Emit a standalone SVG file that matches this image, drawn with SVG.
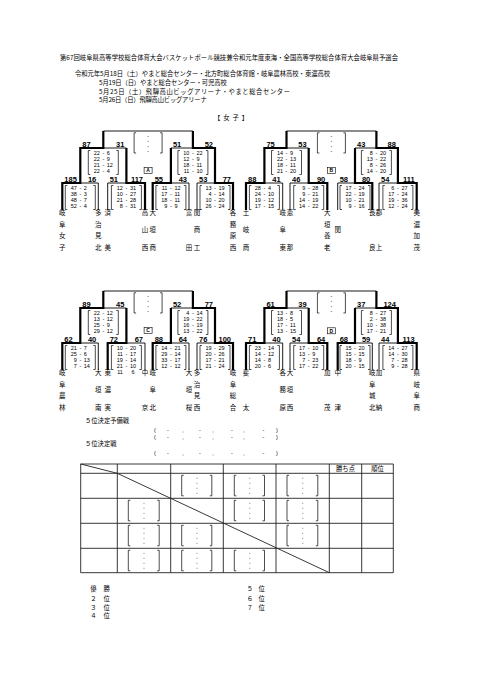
<svg xmlns="http://www.w3.org/2000/svg" width="481" height="680" viewBox="0 0 481 680">
<style>
text{fill:#000}
.h{font-family:'Noto Sans CJK JP','Noto Sans CJK SC',sans-serif;font-size:6.3px}
.j{font-family:'Noto Sans CJK JP','Noto Sans CJK SC',sans-serif;font-size:6.5px;text-anchor:middle}
.n{font-family:'Liberation Sans',Arial,sans-serif;font-weight:bold;font-size:7.5px}
.s{font-family:'Liberation Sans',Arial,sans-serif;font-size:5.5px}
.e{text-anchor:end}
.m{text-anchor:middle}
.lab{font-family:'Liberation Sans',Arial,sans-serif;font-weight:bold;font-size:5px;text-anchor:middle}
.tn{fill:none;stroke:#000;stroke-width:0.9}
.tk{fill:none;stroke:#000;stroke-width:2.2}
.br{fill:none;stroke:#000;stroke-width:0.7}
.bx{fill:#fff;stroke:#000;stroke-width:0.6}
.grid{fill:none;stroke:#222;stroke-width:0.9}
.dot{stroke:#666;stroke-width:0.6}
</style>

<g id="header">
<text class="h" x="60" y="59.7" textLength="338">第67回岐阜県高等学校総合体育大会バスケットボール競技兼令和元年度東海・全国高等学校総合体育大会岐阜県予選会</text>
<text class="h" x="75" y="76.4" textLength="255">令和元年5月18日（土）やまと総合センター・北方町総合体育館・岐阜農林高校・東濃高校</text>
<text class="h" x="99" y="85" textLength="127.7">5月19日（日）やまと総合センター・可児高校</text>
<text class="h" x="99" y="93.7" textLength="191">5月25日（土）飛騨高山ビッグアリーナ・やまと総合センター</text>
<text class="h" x="99" y="102.4" textLength="107.7">5月26日（日）飛騨高山ビッグアリーナ</text>
<text class="h" x="214" y="119.5" textLength="34">【　女　子　】</text>
</g>

<g id="connectors">
<path class="tn" d="M98.3,210V183H80.3M107.7,210V183H126.4M189,210V183H170.9M197,210V183H215M126.4,148H103.3M170.9,148H192.9M103.3,131H192.9"/>
<path class="tk" d="M62.3,210V183H80.3V148H103.3V131M145,210V183H126.4V148M152.7,210V183H170.9V148M233,210V183H215V148H192.9V131"/>
<path class="tn" d="M282.7,210V183H264.4M290,210V183H308.7M337.7,210V183H355M379,210V183H397.9M308.7,148H286.5M355,148H376.4M286.5,131H376.4"/>
<path class="tk" d="M246,210V183H264.4V148H286.5V131M327.3,210V183H308.7V148M372.3,210V183H355V148M416.7,210V183H397.9V148H376.4V131"/>
<path class="tn" d="M98.3,370V343H80.3M145,370V343H126.4M189,370V343H170.9M197,370V343H215M126.4,308H103.3M170.9,308H192.9M103.3,291H192.9"/>
<path class="tk" d="M62.3,370V343H80.3V308H103.3V291M107.7,370V343H126.4V308M152.7,370V343H170.9V308M233,370V343H215V308H192.9V291"/>
<path class="tn" d="M282.7,370V343H264.4M290,370V343H308.7M372.3,370V343H355M379,370V343H397.9M308.7,308H286.5M355,308H376.4M286.5,291H376.4"/>
<path class="tk" d="M246,370V343H264.4V308H286.5V291M327.3,370V343H308.7V308M337.7,370V343H355V308M416.7,370V343H397.9V308H376.4V291"/>
</g>

<g id="scores-numbers">
<text class="n" x="64.3" y="181.7">185</text><text class="n e" x="96.3" y="181.7">16</text>
<text class="n" x="109.7" y="181.7">51</text><text class="n e" x="143" y="181.7">117</text>
<text class="n" x="154.7" y="181.7">55</text><text class="n e" x="187" y="181.7">43</text>
<text class="n" x="199" y="181.7">53</text><text class="n e" x="231" y="181.7">77</text>
<text class="n" x="82.3" y="146.7">87</text><text class="n e" x="124.4" y="146.7">31</text>
<text class="n" x="172.9" y="146.7">51</text><text class="n e" x="213" y="146.7">52</text>
<text class="n" x="248" y="181.7">88</text><text class="n e" x="280.7" y="181.7">41</text>
<text class="n" x="292" y="181.7">46</text><text class="n e" x="325.3" y="181.7">90</text>
<text class="n" x="339.7" y="181.7">58</text><text class="n e" x="370.3" y="181.7">80</text>
<text class="n" x="381" y="181.7">54</text><text class="n e" x="414.7" y="181.7">111</text>
<text class="n" x="266.4" y="146.7">75</text><text class="n e" x="306.7" y="146.7">53</text>
<text class="n" x="357" y="146.7">43</text><text class="n e" x="395.9" y="146.7">88</text>
<text class="n" x="64.3" y="341.7">62</text><text class="n e" x="96.3" y="341.7">40</text>
<text class="n" x="109.7" y="341.7">72</text><text class="n e" x="143" y="341.7">67</text>
<text class="n" x="154.7" y="341.7">88</text><text class="n e" x="187" y="341.7">64</text>
<text class="n" x="199" y="341.7">76</text><text class="n e" x="231" y="341.7">100</text>
<text class="n" x="82.3" y="306.7">89</text><text class="n e" x="124.4" y="306.7">45</text>
<text class="n" x="172.9" y="306.7">52</text><text class="n e" x="213" y="306.7">77</text>
<text class="n" x="248" y="341.7">71</text><text class="n e" x="280.7" y="341.7">40</text>
<text class="n" x="292" y="341.7">54</text><text class="n e" x="325.3" y="341.7">64</text>
<text class="n" x="339.7" y="341.7">68</text><text class="n e" x="370.3" y="341.7">59</text>
<text class="n" x="381" y="341.7">44</text><text class="n e" x="414.7" y="341.7">113</text>
<text class="n" x="266.4" y="306.7">61</text><text class="n e" x="306.7" y="306.7">39</text>
<text class="n" x="357" y="306.7">37</text><text class="n e" x="395.9" y="306.7">124</text>
</g>

<g id="block-labels">
<rect class="bx" x="144.1" y="167.3" width="8" height="6"/><text class="lab" x="148.1" y="172.1">A</text>
<rect class="bx" x="327.4" y="167.3" width="8" height="6"/><text class="lab" x="331.4" y="172.1">B</text>
<rect class="bx" x="144.1" y="327.3" width="8" height="6"/><text class="lab" x="148.1" y="332.1">C</text>
<rect class="bx" x="327.4" y="327.8" width="8" height="6"/><text class="lab" x="331.4" y="332.6">D</text>
</g>

<g id="final-boxes">
<path class="br" d="M136.1,132.8H134.1V153H136.1M160.1,132.8H162.1V153H160.1M319.4,132.8H317.4V153H319.4M343.4,132.8H345.4V153H343.4M136.1,292.8H134.1V313H136.1M160.1,292.8H162.1V313H160.1M319.4,292.8H317.4V313H319.4M343.4,292.8H345.4V313H343.4"/>
<text class="s m" x="148.1" y="137.6">-<tspan x="148.1" dy="5">-</tspan><tspan x="148.1" dy="5">-</tspan><tspan x="148.1" dy="5">-</tspan></text>
<text class="s m" x="331.4" y="137.6">-<tspan x="331.4" dy="5">-</tspan><tspan x="331.4" dy="5">-</tspan><tspan x="331.4" dy="5">-</tspan></text>
<text class="s m" x="148.1" y="297.6">-<tspan x="148.1" dy="5">-</tspan><tspan x="148.1" dy="5">-</tspan><tspan x="148.1" dy="5">-</tspan></text>
<text class="s m" x="331.4" y="297.6">-<tspan x="331.4" dy="5">-</tspan><tspan x="331.4" dy="5">-</tspan><tspan x="331.4" dy="5">-</tspan></text>
</g>

<g id="score-boxes">
<path class="br" d="M67.3,185.5H65.3V209.5H67.3M93.3,185.5H95.3V209.5H93.3M113.4,185.5H111.4V209.5H113.4M139.4,185.5H141.4V209.5H139.4M157.9,185.5H155.9V209.5H157.9M183.9,185.5H185.9V209.5H183.9M202,185.5H200V209.5H202M228,185.5H230V209.5H228M90.3,150.5H88.3V174.5H90.3M116.3,150.5H118.3V174.5H116.3M179.9,150.5H177.9V174.5H179.9M205.9,150.5H207.9V174.5H205.9"/>
<path class="br" d="M251.4,185.5H249.4V209.5H251.4M277.4,185.5H279.4V209.5H277.4M295.7,185.5H293.7V209.5H295.7M321.7,185.5H323.7V209.5H321.7M342,185.5H340V209.5H342M368,185.5H370V209.5H368M384.9,185.5H382.9V209.5H384.9M410.9,185.5H412.9V209.5H410.9M273.5,150.5H271.5V174.5H273.5M299.5,150.5H301.5V174.5H299.5M363.4,150.5H361.4V174.5H363.4M389.4,150.5H391.4V174.5H389.4"/>
<path class="br" d="M67.3,345.5H65.3V369.5H67.3M93.3,345.5H95.3V369.5H93.3M113.4,345.5H111.4V369.5H113.4M139.4,345.5H141.4V369.5H139.4M157.9,345.5H155.9V369.5H157.9M183.9,345.5H185.9V369.5H183.9M202,345.5H200V369.5H202M228,345.5H230V369.5H228M90.3,310.5H88.3V334.5H90.3M116.3,310.5H118.3V334.5H116.3M179.9,310.5H177.9V334.5H179.9M205.9,310.5H207.9V334.5H205.9"/>
<path class="br" d="M251.4,345.5H249.4V369.5H251.4M277.4,345.5H279.4V369.5H277.4M295.7,345.5H293.7V369.5H295.7M321.7,345.5H323.7V369.5H321.7M342,345.5H340V369.5H342M368,345.5H370V369.5H368M384.9,345.5H382.9V369.5H384.9M410.9,345.5H412.9V369.5H410.9M273.5,310.5H271.5V334.5H273.5M299.5,310.5H301.5V334.5H299.5M363.4,310.5H361.4V334.5H363.4M389.4,310.5H391.4V334.5H389.4"/>

<text class="s e" x="76.8" y="190">47<tspan x="76.8" dy="6">38</tspan><tspan x="76.8" dy="6">48</tspan><tspan x="76.8" dy="6">52</tspan></text>
<text class="s" x="83.8" y="190">2<tspan x="83.8" dy="6">3</tspan><tspan x="83.8" dy="6">7</tspan><tspan x="83.8" dy="6">4</tspan></text>
<text class="s e" x="122.9" y="190">12<tspan x="122.9" dy="6">10</tspan><tspan x="122.9" dy="6">21</tspan><tspan x="122.9" dy="6">8</tspan></text>
<text class="s" x="129.9" y="190">31<tspan x="129.9" dy="6">27</tspan><tspan x="129.9" dy="6">28</tspan><tspan x="129.9" dy="6">31</tspan></text>
<text class="s e" x="167.4" y="190">11<tspan x="167.4" dy="6">17</tspan><tspan x="167.4" dy="6">18</tspan><tspan x="167.4" dy="6">9</tspan></text>
<text class="s" x="174.4" y="190">12<tspan x="174.4" dy="6">11</tspan><tspan x="174.4" dy="6">11</tspan><tspan x="174.4" dy="6">9</tspan></text>
<text class="s e" x="211.5" y="190">13<tspan x="211.5" dy="6">4</tspan><tspan x="211.5" dy="6">10</tspan><tspan x="211.5" dy="6">26</tspan></text>
<text class="s" x="218.5" y="190">19<tspan x="218.5" dy="6">14</tspan><tspan x="218.5" dy="6">20</tspan><tspan x="218.5" dy="6">24</tspan></text>
<text class="s e" x="99.8" y="155">22<tspan x="99.8" dy="6">22</tspan><tspan x="99.8" dy="6">21</tspan><tspan x="99.8" dy="6">22</tspan></text>
<text class="s" x="106.8" y="155">6<tspan x="106.8" dy="6">9</tspan><tspan x="106.8" dy="6">12</tspan><tspan x="106.8" dy="6">4</tspan></text>
<text class="s e" x="189.4" y="155">10<tspan x="189.4" dy="6">12</tspan><tspan x="189.4" dy="6">18</tspan><tspan x="189.4" dy="6">11</tspan></text>
<text class="s" x="196.4" y="155">22<tspan x="196.4" dy="6">9</tspan><tspan x="196.4" dy="6">11</tspan><tspan x="196.4" dy="6">10</tspan></text>

<text class="s e" x="260.9" y="190">28<tspan x="260.9" dy="6">24</tspan><tspan x="260.9" dy="6">19</tspan><tspan x="260.9" dy="6">17</tspan></text>
<text class="s" x="267.9" y="190">4<tspan x="267.9" dy="6">10</tspan><tspan x="267.9" dy="6">12</tspan><tspan x="267.9" dy="6">15</tspan></text>
<text class="s e" x="305.2" y="190">9<tspan x="305.2" dy="6">9</tspan><tspan x="305.2" dy="6">14</tspan><tspan x="305.2" dy="6">14</tspan></text>
<text class="s" x="312.2" y="190">28<tspan x="312.2" dy="6">21</tspan><tspan x="312.2" dy="6">19</tspan><tspan x="312.2" dy="6">22</tspan></text>
<text class="s e" x="351.5" y="190">17<tspan x="351.5" dy="6">22</tspan><tspan x="351.5" dy="6">10</tspan><tspan x="351.5" dy="6">9</tspan></text>
<text class="s" x="358.5" y="190">24<tspan x="358.5" dy="6">19</tspan><tspan x="358.5" dy="6">21</tspan><tspan x="358.5" dy="6">16</tspan></text>
<text class="s e" x="394.4" y="190">6<tspan x="394.4" dy="6">17</tspan><tspan x="394.4" dy="6">19</tspan><tspan x="394.4" dy="6">12</tspan></text>
<text class="s" x="401.4" y="190">27<tspan x="401.4" dy="6">24</tspan><tspan x="401.4" dy="6">36</tspan><tspan x="401.4" dy="6">24</tspan></text>
<text class="s e" x="283" y="155">14<tspan x="283" dy="6">22</tspan><tspan x="283" dy="6">18</tspan><tspan x="283" dy="6">21</tspan></text>
<text class="s" x="290" y="155">9<tspan x="290" dy="6">13</tspan><tspan x="290" dy="6">11</tspan><tspan x="290" dy="6">20</tspan></text>
<text class="s e" x="372.9" y="155">8<tspan x="372.9" dy="6">13</tspan><tspan x="372.9" dy="6">8</tspan><tspan x="372.9" dy="6">14</tspan></text>
<text class="s" x="379.9" y="155">20<tspan x="379.9" dy="6">22</tspan><tspan x="379.9" dy="6">26</tspan><tspan x="379.9" dy="6">20</tspan></text>

<text class="s e" x="76.8" y="350">21<tspan x="76.8" dy="6">25</tspan><tspan x="76.8" dy="6">9</tspan><tspan x="76.8" dy="6">7</tspan></text>
<text class="s" x="83.8" y="350">7<tspan x="83.8" dy="6">6</tspan><tspan x="83.8" dy="6">13</tspan><tspan x="83.8" dy="6">14</tspan></text>
<text class="s e" x="122.9" y="350">10<tspan x="122.9" dy="6">11</tspan><tspan x="122.9" dy="6">19</tspan><tspan x="122.9" dy="6">21</tspan><tspan x="122.9" dy="6">11</tspan></text>
<text class="s" x="129.9" y="350">20<tspan x="129.9" dy="6">17</tspan><tspan x="129.9" dy="6">14</tspan><tspan x="129.9" dy="6">10</tspan><tspan x="131.5" dy="6">6</tspan></text>
<text class="s e" x="167.4" y="350">14<tspan x="167.4" dy="6">29</tspan><tspan x="167.4" dy="6">33</tspan><tspan x="167.4" dy="6">12</tspan></text>
<text class="s" x="174.4" y="350">21<tspan x="174.4" dy="6">14</tspan><tspan x="174.4" dy="6">17</tspan><tspan x="174.4" dy="6">12</tspan></text>
<text class="s e" x="211.5" y="350">19<tspan x="211.5" dy="6">20</tspan><tspan x="211.5" dy="6">17</tspan><tspan x="211.5" dy="6">21</tspan></text>
<text class="s" x="218.5" y="350">29<tspan x="218.5" dy="6">26</tspan><tspan x="218.5" dy="6">21</tspan><tspan x="218.5" dy="6">24</tspan></text>
<text class="s e" x="99.8" y="315">22<tspan x="99.8" dy="6">13</tspan><tspan x="99.8" dy="6">25</tspan><tspan x="99.8" dy="6">29</tspan></text>
<text class="s" x="106.8" y="315">12<tspan x="106.8" dy="6">12</tspan><tspan x="106.8" dy="6">9</tspan><tspan x="106.8" dy="6">12</tspan></text>
<text class="s e" x="189.4" y="315">4<tspan x="189.4" dy="6">19</tspan><tspan x="189.4" dy="6">16</tspan><tspan x="189.4" dy="6">13</tspan></text>
<text class="s" x="196.4" y="315">14<tspan x="196.4" dy="6">22</tspan><tspan x="196.4" dy="6">19</tspan><tspan x="196.4" dy="6">22</tspan></text>

<text class="s e" x="260.9" y="350">23<tspan x="260.9" dy="6">14</tspan><tspan x="260.9" dy="6">14</tspan><tspan x="260.9" dy="6">20</tspan></text>
<text class="s" x="267.9" y="350">14<tspan x="267.9" dy="6">12</tspan><tspan x="267.9" dy="6">8</tspan><tspan x="267.9" dy="6">6</tspan></text>
<text class="s e" x="305.2" y="350">17<tspan x="305.2" dy="6">13</tspan><tspan x="305.2" dy="6">7</tspan><tspan x="305.2" dy="6">17</tspan></text>
<text class="s" x="312.2" y="350">10<tspan x="312.2" dy="6">9</tspan><tspan x="312.2" dy="6">23</tspan><tspan x="312.2" dy="6">22</tspan></text>
<text class="s e" x="351.5" y="350">15<tspan x="351.5" dy="6">15</tspan><tspan x="351.5" dy="6">18</tspan><tspan x="351.5" dy="6">20</tspan></text>
<text class="s" x="358.5" y="350">20<tspan x="358.5" dy="6">15</tspan><tspan x="358.5" dy="6">9</tspan><tspan x="358.5" dy="6">15</tspan></text>
<text class="s e" x="394.4" y="350">14<tspan x="394.4" dy="6">14</tspan><tspan x="394.4" dy="6">7</tspan><tspan x="394.4" dy="6">9</tspan></text>
<text class="s" x="401.4" y="350">27<tspan x="401.4" dy="6">30</tspan><tspan x="401.4" dy="6">28</tspan><tspan x="401.4" dy="6">28</tspan></text>
<text class="s e" x="283" y="315">13<tspan x="283" dy="6">18</tspan><tspan x="283" dy="6">17</tspan><tspan x="283" dy="6">13</tspan></text>
<text class="s" x="290" y="315">8<tspan x="290" dy="6">5</tspan><tspan x="290" dy="6">11</tspan><tspan x="290" dy="6">15</tspan></text>
<text class="s e" x="372.9" y="315">8<tspan x="372.9" dy="6">2</tspan><tspan x="372.9" dy="6">10</tspan><tspan x="372.9" dy="6">17</tspan></text>
<text class="s" x="379.9" y="315">27<tspan x="379.9" dy="6">38</tspan><tspan x="379.9" dy="6">38</tspan><tspan x="379.9" dy="6">21</tspan></text>

<text class="s m" x="80.3" y="190">-<tspan x="80.3" dy="6">-</tspan><tspan x="80.3" dy="6">-</tspan><tspan x="80.3" dy="6">-</tspan><tspan x="126.4" y="190">-</tspan><tspan x="126.4" dy="6">-</tspan><tspan x="126.4" dy="6">-</tspan><tspan x="126.4" dy="6">-</tspan><tspan x="170.9" y="190">-</tspan><tspan x="170.9" dy="6">-</tspan><tspan x="170.9" dy="6">-</tspan><tspan x="170.9" dy="6">-</tspan><tspan x="215" y="190">-</tspan><tspan x="215" dy="6">-</tspan><tspan x="215" dy="6">-</tspan><tspan x="215" dy="6">-</tspan><tspan x="103.3" y="155">-</tspan><tspan x="103.3" dy="6">-</tspan><tspan x="103.3" dy="6">-</tspan><tspan x="103.3" dy="6">-</tspan><tspan x="192.9" y="155">-</tspan><tspan x="192.9" dy="6">-</tspan><tspan x="192.9" dy="6">-</tspan><tspan x="192.9" dy="6">-</tspan></text>
<text class="s m" x="264.4" y="190">-<tspan x="264.4" dy="6">-</tspan><tspan x="264.4" dy="6">-</tspan><tspan x="264.4" dy="6">-</tspan><tspan x="308.7" y="190">-</tspan><tspan x="308.7" dy="6">-</tspan><tspan x="308.7" dy="6">-</tspan><tspan x="308.7" dy="6">-</tspan><tspan x="355" y="190">-</tspan><tspan x="355" dy="6">-</tspan><tspan x="355" dy="6">-</tspan><tspan x="355" dy="6">-</tspan><tspan x="397.9" y="190">-</tspan><tspan x="397.9" dy="6">-</tspan><tspan x="397.9" dy="6">-</tspan><tspan x="397.9" dy="6">-</tspan><tspan x="286.5" y="155">-</tspan><tspan x="286.5" dy="6">-</tspan><tspan x="286.5" dy="6">-</tspan><tspan x="286.5" dy="6">-</tspan><tspan x="376.4" y="155">-</tspan><tspan x="376.4" dy="6">-</tspan><tspan x="376.4" dy="6">-</tspan><tspan x="376.4" dy="6">-</tspan></text>
<text class="s m" x="80.3" y="350">-<tspan x="80.3" dy="6">-</tspan><tspan x="80.3" dy="6">-</tspan><tspan x="80.3" dy="6">-</tspan><tspan x="126.4" y="350">-</tspan><tspan x="126.4" dy="6">-</tspan><tspan x="126.4" dy="6">-</tspan><tspan x="126.4" dy="6">-</tspan><tspan x="170.9" y="350">-</tspan><tspan x="170.9" dy="6">-</tspan><tspan x="170.9" dy="6">-</tspan><tspan x="170.9" dy="6">-</tspan><tspan x="215" y="350">-</tspan><tspan x="215" dy="6">-</tspan><tspan x="215" dy="6">-</tspan><tspan x="215" dy="6">-</tspan><tspan x="103.3" y="315">-</tspan><tspan x="103.3" dy="6">-</tspan><tspan x="103.3" dy="6">-</tspan><tspan x="103.3" dy="6">-</tspan><tspan x="192.9" y="315">-</tspan><tspan x="192.9" dy="6">-</tspan><tspan x="192.9" dy="6">-</tspan><tspan x="192.9" dy="6">-</tspan></text>
<text class="s m" x="264.4" y="350">-<tspan x="264.4" dy="6">-</tspan><tspan x="264.4" dy="6">-</tspan><tspan x="264.4" dy="6">-</tspan><tspan x="308.7" y="350">-</tspan><tspan x="308.7" dy="6">-</tspan><tspan x="308.7" dy="6">-</tspan><tspan x="308.7" dy="6">-</tspan><tspan x="355" y="350">-</tspan><tspan x="355" dy="6">-</tspan><tspan x="355" dy="6">-</tspan><tspan x="355" dy="6">-</tspan><tspan x="397.9" y="350">-</tspan><tspan x="397.9" dy="6">-</tspan><tspan x="397.9" dy="6">-</tspan><tspan x="397.9" dy="6">-</tspan><tspan x="286.5" y="315">-</tspan><tspan x="286.5" dy="6">-</tspan><tspan x="286.5" dy="6">-</tspan><tspan x="286.5" dy="6">-</tspan><tspan x="376.4" y="315">-</tspan><tspan x="376.4" dy="6">-</tspan><tspan x="376.4" dy="6">-</tspan><tspan x="376.4" dy="6">-</tspan></text>
</g>

<g id="teams">
<g id="tA1"><text class="j" x="62.3" y="215.1">岐<tspan x="62.3" y="226.6">阜</tspan><tspan x="62.3" y="238.2">女</tspan><tspan x="62.3" y="249.7">子</tspan></text></g>
<g id="tA2"><text class="j" x="98.3" y="215.1">多<tspan x="98.3" y="226.6">治</tspan><tspan x="98.3" y="238.2">見</tspan><tspan x="98.3" y="249.7">北</tspan></text></g>
<g id="tA3"><text class="j" x="107.7" y="215.1">済<tspan x="107.7" y="249.7">美</tspan></text></g>
<g id="tA4"><text class="j" x="145" y="215.1">高<tspan x="145" y="232.4">山</tspan><tspan x="145" y="249.7">西</tspan></text></g>
<g id="tA5"><text class="j" x="152.7" y="215.1">大<tspan x="152.7" y="232.4">垣</tspan><tspan x="152.7" y="249.7">商</tspan></text></g>
<g id="tA6"><text class="j" x="189" y="215.1">富<tspan x="189" y="249.7">田</tspan></text></g>
<g id="tA7"><text class="j" x="197" y="215.1">関<tspan x="197" y="232.4">商</tspan><tspan x="197" y="249.7">工</tspan></text></g>
<g id="tA8"><text class="j" x="233" y="215.1">各<tspan x="233" y="226.6">務</tspan><tspan x="233" y="238.2">原</tspan><tspan x="233" y="249.7">西</tspan></text></g>
<g id="tB1"><text class="j" x="246" y="215.1">土<tspan x="246" y="232.4">岐</tspan><tspan x="246" y="249.7">商</tspan></text></g>
<g id="tB2"><text class="j" x="282.7" y="215.1">岐<tspan x="282.7" y="232.4">阜</tspan><tspan x="282.7" y="249.7">東</tspan></text></g>
<g id="tB3"><text class="j" x="290" y="215.1">恵<tspan x="290" y="249.7">那</tspan></text></g>
<g id="tB4"><text class="j" x="327.3" y="215.1">大<tspan x="327.3" y="226.6">垣</tspan><tspan x="327.3" y="238.2">養</tspan><tspan x="327.3" y="249.7">老</tspan></text></g>
<g id="tB5"><text class="j" x="337.7" y="232.4">関</text></g>
<g id="tB6"><text class="j" x="372.3" y="215.1">長<tspan x="372.3" y="249.7">良</tspan></text></g>
<g id="tB7"><text class="j" x="379" y="215.1">郡<tspan x="379" y="249.7">上</tspan></text></g>
<g id="tB8"><text class="j" x="416.7" y="215.1">美<tspan x="416.7" y="226.6">濃</tspan><tspan x="416.7" y="238.2">加</tspan><tspan x="416.7" y="249.7">茂</tspan></text></g>
<g id="tC1"><text class="j" x="62.3" y="375.1">岐<tspan x="62.3" y="386.6">阜</tspan><tspan x="62.3" y="398.2">農</tspan><tspan x="62.3" y="409.7">林</tspan></text></g>
<g id="tC2"><text class="j" x="98.3" y="375.1">大<tspan x="98.3" y="392.4">垣</tspan><tspan x="98.3" y="409.7">南</tspan></text></g>
<g id="tC3"><text class="j" x="107.7" y="375.1">東<tspan x="107.7" y="392.4">濃</tspan><tspan x="107.7" y="409.7">実</tspan></text></g>
<g id="tC4"><text class="j" x="145" y="375.1">中<tspan x="145" y="409.7">京</tspan></text></g>
<g id="tC5"><text class="j" x="152.7" y="375.1">岐<tspan x="152.7" y="392.4">阜</tspan><tspan x="152.7" y="409.7">北</tspan></text></g>
<g id="tC6"><text class="j" x="189" y="375.1">大<tspan x="189" y="392.4">垣</tspan><tspan x="189" y="409.7">桜</tspan></text></g>
<g id="tC7"><text class="j" x="197" y="375.1">多<tspan x="197" y="386.6">治</tspan><tspan x="197" y="398.2">見</tspan><tspan x="197" y="409.7">西</tspan></text></g>
<g id="tC8"><text class="j" x="233" y="375.1">岐<tspan x="233" y="386.6">阜</tspan><tspan x="233" y="398.2">総</tspan><tspan x="233" y="409.7">合</tspan></text></g>
<g id="tD1"><text class="j" x="246" y="375.1">斐<tspan x="246" y="409.7">太</tspan></text></g>
<g id="tD2"><text class="j" x="282.7" y="375.1">各<tspan x="282.7" y="392.4">務</tspan><tspan x="282.7" y="409.7">原</tspan></text></g>
<g id="tD3"><text class="j" x="290" y="375.1">大<tspan x="290" y="392.4">垣</tspan><tspan x="290" y="409.7">西</tspan></text></g>
<g id="tD4"><text class="j" x="327.3" y="375.1">加<tspan x="327.3" y="409.7">茂</tspan></text></g>
<g id="tD5"><text class="j" x="337.7" y="375.1">中<tspan x="337.7" y="409.7">津</tspan></text></g>
<g id="tD6"><text class="j" x="372.3" y="375.1">岐<tspan x="372.3" y="386.6">阜</tspan><tspan x="372.3" y="398.2">城</tspan><tspan x="372.3" y="409.7">北</tspan></text></g>
<g id="tD7"><text class="j" x="379" y="375.1">加<tspan x="379" y="409.7">納</tspan></text></g>
<g id="tD8"><text class="j" x="416.7" y="375.1">県<tspan x="416.7" y="386.6">岐</tspan><tspan x="416.7" y="398.2">阜</tspan><tspan x="416.7" y="409.7">商</tspan></text></g>
</g>

<g id="fifth-place">
<text class="h" x="85" y="423.2">５位決定予備戦</text>
<text class="h" x="85" y="446">５位決定戦</text>
<text class="s m" y="432"><tspan x="155">(</tspan><tspan x="168">-</tspan><tspan x="183">,</tspan><tspan x="200">-</tspan><tspan x="213">,</tspan><tspan x="232">-</tspan><tspan x="244">,</tspan><tspan x="263.5">-</tspan><tspan x="277">)</tspan></text>
<text class="s m" y="438.8"><tspan x="155">(</tspan><tspan x="168">-</tspan><tspan x="183">,</tspan><tspan x="200">-</tspan><tspan x="213">,</tspan><tspan x="232">-</tspan><tspan x="244">,</tspan><tspan x="263.5">-</tspan><tspan x="277">)</tspan></text>
<text class="s m" y="455.3"><tspan x="155">(</tspan><tspan x="168">-</tspan><tspan x="183">,</tspan><tspan x="200">-</tspan><tspan x="213">,</tspan><tspan x="232">-</tspan><tspan x="244">,</tspan><tspan x="263.5">-</tspan><tspan x="277">)</tspan></text>
</g>

<g id="league-table">
<path class="grid" d="M80.7,464H393.3M80.7,473.3H393.3M80.7,498.3H393.3M80.7,523.3H393.3M80.7,548.3H393.3M80.7,572.7H393.3M80.7,464V572.7M117.3,464V572.7M170.7,464V572.7M223.3,464V572.7M276,464V572.7M329.3,464V572.7M361.7,464V572.7M393.3,464V572.7"/>
<path class="grid" d="M80.7,464L117.3,473.3L329.3,572.7"/>
<text class="h m" x="345.5" y="471">勝ち点</text>
<text class="h m" x="377.5" y="471">順位</text>
<path class="br" d="M183.7,475.3H181.7V495.8H183.7M209.8,475.3H211.8V495.8H209.8M236.3,475.3H234.3V495.8H236.3M262.5,475.3H264.5V495.8H262.5M289,475.3H287V495.8H289M315.8,475.3H317.8V495.8H315.8"/>
<path class="br" d="M130.3,500.3H128.3V520.8H130.3M157.2,500.3H159.2V520.8H157.2M236.3,500.3H234.3V520.8H236.3M262.5,500.3H264.5V520.8H262.5M289,500.3H287V520.8H289M315.8,500.3H317.8V520.8H315.8"/>
<path class="br" d="M130.3,525.3H128.3V545.8H130.3M157.2,525.3H159.2V545.8H157.2M183.7,525.3H181.7V545.8H183.7M209.8,525.3H211.8V545.8H209.8M289,525.3H287V545.8H289M315.8,525.3H317.8V545.8H315.8"/>
<path class="br" d="M130.3,550.3H128.3V570.8H130.3M157.2,550.3H159.2V570.8H157.2M183.7,550.3H181.7V570.8H183.7M209.8,550.3H211.8V570.8H209.8M236.3,550.3H234.3V570.8H236.3M262.5,550.3H264.5V570.8H262.5"/>
<path class="dot" d="M196.3,478.3h1.4M196.3,483.3h1.4M196.3,488.3h1.4M196.3,493.3h1.4M249,478.3h1.4M249,483.3h1.4M249,488.3h1.4M249,493.3h1.4M302,478.3h1.4M302,483.3h1.4M302,488.3h1.4M302,493.3h1.4M143.3,503.3h1.4M143.3,508.3h1.4M143.3,513.3h1.4M143.3,518.3h1.4M249,503.3h1.4M249,508.3h1.4M249,513.3h1.4M249,518.3h1.4M302,503.3h1.4M302,508.3h1.4M302,513.3h1.4M302,518.3h1.4M143.3,528.3h1.4M143.3,533.3h1.4M143.3,538.3h1.4M143.3,543.3h1.4M196.3,528.3h1.4M196.3,533.3h1.4M196.3,538.3h1.4M196.3,543.3h1.4M302,528.3h1.4M302,533.3h1.4M302,538.3h1.4M302,543.3h1.4M143.3,553.3h1.4M143.3,558.3h1.4M143.3,563.3h1.4M143.3,568.3h1.4M196.3,553.3h1.4M196.3,558.3h1.4M196.3,563.3h1.4M196.3,568.3h1.4M249,553.3h1.4M249,558.3h1.4M249,563.3h1.4M249,568.3h1.4"/>
</g>

<g id="ranking">
<text class="h m" y="591"><tspan x="93.3">優</tspan><tspan x="106.7">勝</tspan></text>
<text class="h m" y="600.5"><tspan x="93.3">２</tspan><tspan x="106.7">位</tspan></text>
<text class="h m" y="609.5"><tspan x="93.3">３</tspan><tspan x="106.7">位</tspan></text>
<text class="h m" y="618"><tspan x="93.3">４</tspan><tspan x="106.7">位</tspan></text>
<text class="h m" y="591"><tspan x="250">５</tspan><tspan x="261.7">位</tspan></text>
<text class="h m" y="600.5"><tspan x="250">６</tspan><tspan x="261.7">位</tspan></text>
<text class="h m" y="609.5"><tspan x="250">７</tspan><tspan x="261.7">位</tspan></text>
</g>
</svg>
